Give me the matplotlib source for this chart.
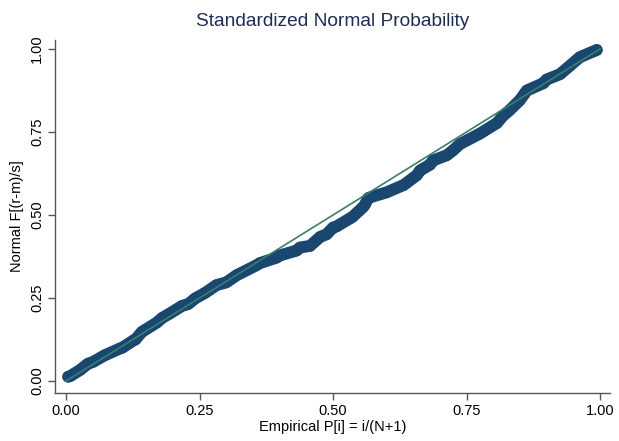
import matplotlib
matplotlib.use("Agg")
import matplotlib.pyplot as plt

plt.rcParams['font.family'] = ['Liberation Sans', 'DejaVu Sans']

# Empirical P[i] = i/(N+1) (x) vs Normal F[(r-m)/s] (y)
emp_p = [0.004, 0.008, 0.026, 0.041, 0.051, 0.073, 0.076, 0.101, 0.105, 0.126, 0.130,
         0.142, 0.148, 0.170, 0.180, 0.195, 0.217, 0.229, 0.242, 0.260, 0.282, 0.300,
         0.320, 0.330, 0.357, 0.363, 0.395, 0.400, 0.432, 0.438, 0.457, 0.476, 0.488,
         0.500, 0.507, 0.532, 0.537, 0.557, 0.560, 0.566, 0.569, 0.600, 0.632, 0.638,
         0.657, 0.663, 0.682, 0.687, 0.713, 0.725, 0.738, 0.775, 0.807, 0.818, 0.831,
         0.850, 0.863, 0.894, 0.900, 0.925, 0.944, 0.962, 0.969, 0.994]
norm_f = [0.013, 0.015, 0.033, 0.052, 0.058, 0.078, 0.080, 0.098, 0.100, 0.122, 0.125,
          0.148, 0.154, 0.176, 0.190, 0.204, 0.226, 0.232, 0.249, 0.265, 0.289, 0.297,
          0.319, 0.327, 0.349, 0.355, 0.372, 0.378, 0.393, 0.402, 0.407, 0.434, 0.442,
          0.462, 0.466, 0.490, 0.495, 0.525, 0.532, 0.551, 0.553, 0.568, 0.590, 0.597,
          0.620, 0.634, 0.652, 0.664, 0.680, 0.695, 0.714, 0.745, 0.777, 0.798, 0.816,
          0.846, 0.875, 0.897, 0.908, 0.924, 0.950, 0.975, 0.980, 0.997]
ref_line = [0.0, 1.0]

xticks = [0.0, 0.25, 0.5, 0.75, 1.0]
yticks = [0.0, 0.25, 0.5, 0.75, 1.0]
tick_labels = ["0.00", "0.25", "0.50", "0.75", "1.00"]

fig = plt.figure(figsize=(6.19, 4.41), dpi=100)
ax = fig.add_axes([55/619, 1-393/441, 555/619, 353/441])

marker_col = "#1a476f"
ax.plot(emp_p, norm_f, color=marker_col, lw=8.6, solid_capstyle='round',
        solid_joinstyle='round', zorder=2)
ax.scatter(emp_p, norm_f, s=66, color=marker_col, edgecolors='none', zorder=2)
ax.plot(ref_line, ref_line, color="#3a7d6a", lw=1.2, zorder=3)

ax.set_xlim(-0.0206, 1.0187)
ax.set_ylim(-0.036, 1.027)
ax.spines['top'].set_visible(False)
ax.spines['right'].set_visible(False)
for s in ('left', 'bottom'):
    ax.spines[s].set_color('#555555')
    ax.spines[s].set_linewidth(1.0)

ax.set_xticks(xticks)
ax.set_xticklabels(tick_labels)
ax.set_yticks(yticks)
ax.set_yticklabels(tick_labels, rotation=90, va='center')
ax.tick_params(axis='both', direction='out', length=5, width=1.0, color='#555555',
               labelsize=10.5, labelcolor='black', pad=3)

ax.set_xlabel("Empirical P[i] = i/(N+1)", fontsize=10.5, labelpad=1)
ax.set_ylabel("Normal F[(r-m)/s]", fontsize=10.5, labelpad=4)
fig.text(333/619, 1-21/441, "Standardized Normal Probability", fontsize=13.8,
         color="#1e2d53", ha='center', va='center')

fig.savefig("out.png", dpi=100)
